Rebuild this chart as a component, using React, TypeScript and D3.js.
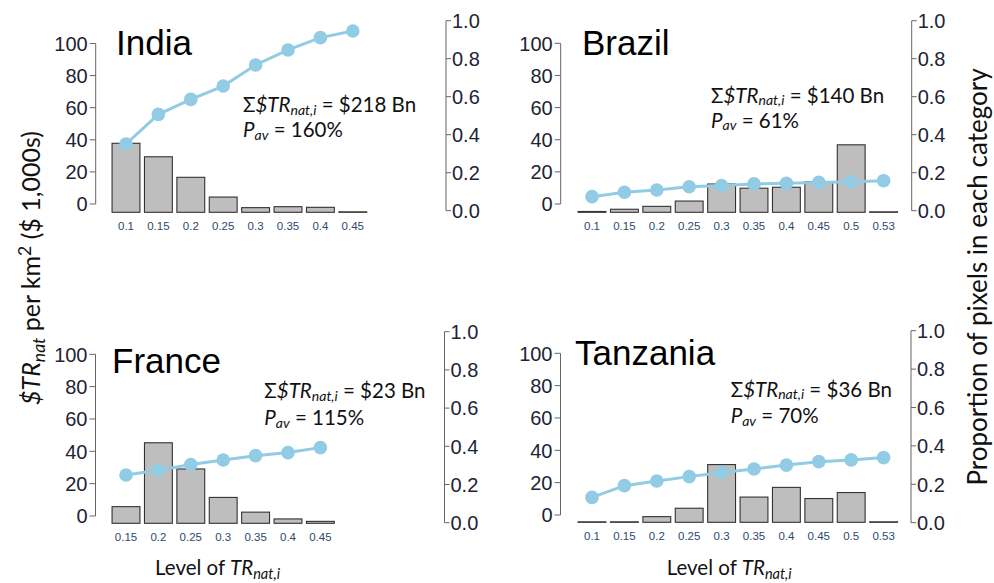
import React from "react";
import * as d3 from "d3";

// ---------- data ----------
const indiaCats = ["0.1", "0.15", "0.2", "0.25", "0.3", "0.35", "0.4", "0.45"];
const indiaBars = [43, 34.6, 21.8, 9.5, 2.9, 3.5, 3.1, 0.3];
const indiaProp = [0.351, 0.507, 0.586, 0.656, 0.767, 0.846, 0.911, 0.946];

const brazilCats = ["0.1", "0.15", "0.2", "0.25", "0.3", "0.35", "0.4", "0.45", "0.5", "0.53"];
const brazilBars = [0.5, 1.9, 3.7, 7, 17.6, 15, 15.6, 19, 42, 0.3];
const brazilProp = [0.074, 0.097, 0.109, 0.126, 0.132, 0.141, 0.144, 0.149, 0.153, 0.158];

const franceCats = ["0.15", "0.2", "0.25", "0.3", "0.35", "0.4", "0.45"];
const franceBars = [10.3, 49.8, 33.6, 16, 6.9, 2.7, 1.2];
const franceProp = [0.25, 0.275, 0.305, 0.328, 0.351, 0.367, 0.393];

const tanzaniaCats = ["0.1", "0.15", "0.2", "0.25", "0.3", "0.35", "0.4", "0.45", "0.5", "0.53"];
const tanzaniaBars = [0.3, 0.3, 3.5, 8.7, 35.7, 15.6, 21.6, 14.7, 18.4, 0.3];
const tanzaniaProp = [0.132, 0.193, 0.217, 0.24, 0.262, 0.28, 0.3, 0.318, 0.327, 0.339];

const leftTicks = [0, 20, 40, 60, 80, 100];
const rightTicks = [0, 0.2, 0.4, 0.6, 0.8, 1.0];

const panelNames = ["India", "Brazil", "France", "Tanzania"];
const panelTotals = ["$218 Bn", "$140 Bn", "$23 Bn", "$36 Bn"];
const panelPav = ["160%", "61%", "115%", "70%"];

// ---------- layout ----------
const layouts = [
  { lx: 95.7, l100: 43.5, l0: 204, rx: 446, r1: 20.7, r0: 210.7, base: 212.3, c0: 126, title: [116, 55], ann: [243, 112, 137] },
  { lx: 560.7, l100: 43.3, l0: 204, rx: 911.7, r1: 20.7, r0: 210.7, base: 212.3, c0: 592, title: [582, 55], ann: [711, 102.5, 127.5] },
  { lx: 95.5, l100: 354.3, l0: 516, rx: 444.5, r1: 331.7, r0: 522.7, base: 523.3, c0: 126, title: [112, 373.3], ann: [264.3, 398.3, 425] },
  { lx: 560.5, l100: 353.3, l0: 515, rx: 911, r1: 330.7, r0: 522.7, base: 522.3, c0: 592, title: [575, 365], ann: [730.7, 396.7, 423.3] },
];

const PITCH = 32.4;
const AXIS_FONT = "'Liberation Sans', Arial, sans-serif";
const ANN_FONT = "Lato, 'Open Sans', sans-serif";
const LINE_COL = "#92cbe4";

function Panel({ cats, bars, prop, idx }) {
  const L = layouts[idx];
  const n = cats.length;
  const x = d3
    .scaleBand()
    .domain(cats)
    .range([L.c0 - PITCH / 2, L.c0 - PITCH / 2 + n * PITCH])
    .paddingInner(0.14)
    .paddingOuter(0.07);
  const yL = d3.scaleLinear().domain([0, 100]).range([L.l0, L.l100]);
  const yB = d3.scaleLinear().domain([0, 100]).range([L.base, L.base - (L.l0 - L.l100)]);
  const yR = d3.scaleLinear().domain([0, 1]).range([L.r0, L.r1]);
  const cx = (c) => (x(c) as number) + x.bandwidth() / 2;
  const pts = cats.map((c, i) => [cx(c), yR(prop[i])] as [number, number]);
  const line = d3.line()(pts);
  const [ax, ay1, ay2] = L.ann;
  return (
    <g>
      {/* left axis */}
      <line x1={L.lx} x2={L.lx} y1={yL(0)} y2={yL(100)} stroke="#666" strokeWidth={1} />
      {leftTicks.map((t) => (
        <g key={"l" + t}>
          <line x1={L.lx - 6} x2={L.lx} y1={yL(t)} y2={yL(t)} stroke="#666" strokeWidth={1} />
          <text x={L.lx - 8} y={yL(t)} dy="0.36em" textAnchor="end" fontFamily={AXIS_FONT} fontSize={20} fill="#1c2435">
            {t}
          </text>
        </g>
      ))}
      {/* right axis */}
      <line x1={L.rx} x2={L.rx} y1={yR(0)} y2={yR(1)} stroke="#666" strokeWidth={1} />
      {rightTicks.map((t) => (
        <g key={"r" + t}>
          <line x1={L.rx} x2={L.rx + 5} y1={yR(t)} y2={yR(t)} stroke="#666" strokeWidth={1} />
          <text x={L.rx + 6} y={yR(t)} dy="0.36em" textAnchor="start" fontFamily={AXIS_FONT} fontSize={20} fill="#1c2435">
            {t.toFixed(1)}
          </text>
        </g>
      ))}
      {/* bars */}
      {cats.map((c, i) => (
        <rect
          key={"b" + c}
          x={x(c)}
          y={yB(bars[i])}
          width={x.bandwidth()}
          height={Math.max(0.01, yB(0) - yB(bars[i]))}
          fill="#bebebe"
          stroke="#333"
          strokeWidth={1.1}
        />
      ))}
      {/* category labels */}
      {cats.map((c) => (
        <text key={"c" + c} x={cx(c)} y={L.base + 17.8} textAnchor="middle" fontFamily={AXIS_FONT} fontSize={11.5} fill="#2c4a6e">
          {c}
        </text>
      ))}
      {/* proportion line */}
      <path d={line} fill="none" stroke={LINE_COL} strokeWidth={3} />
      {pts.map((p, i) => (
        <circle key={"p" + i} cx={p[0]} cy={p[1]} r={6.8} fill={LINE_COL} />
      ))}
      {/* title */}
      <text x={L.title[0]} y={L.title[1]} fontFamily={AXIS_FONT} fontSize={35} fill="#000">
        {panelNames[idx]}
      </text>
      {/* annotation */}
      <text x={ax} y={ay1} fontFamily={ANN_FONT} fontSize={20.5} fill="#111">
        <tspan>Σ</tspan>
        <tspan fontStyle="italic">$TR</tspan>
        <tspan fontStyle="italic" fontSize={14} dy={2.5}>nat,i</tspan>
        <tspan dy={-2.5}> = {panelTotals[idx]}</tspan>
      </text>
      <text x={ax} y={ay2} fontFamily={ANN_FONT} fontSize={20.5} fill="#111">
        <tspan fontStyle="italic">P</tspan>
        <tspan fontStyle="italic" fontSize={14} dy={2.5}>av</tspan>
        <tspan dy={-2.5}> = {panelPav[idx]}</tspan>
      </text>
    </g>
  );
}

export default function App() {
  return (
    <svg
      width={994}
      height={583}
      style={{ position: "absolute", left: 0, top: 0, background: "#fff" }}
    >
      <rect width={994} height={583} fill="#fff" />
      <Panel cats={indiaCats} bars={indiaBars} prop={indiaProp} idx={0} />
      <Panel cats={brazilCats} bars={brazilBars} prop={brazilProp} idx={1} />
      <Panel cats={franceCats} bars={franceBars} prop={franceProp} idx={2} />
      <Panel cats={tanzaniaCats} bars={tanzaniaBars} prop={tanzaniaProp} idx={3} />
      {/* x labels */}
      {[155, 666.7].map((lx, i) => (
        <text key={"xl" + i} x={lx} y={575} fontFamily={ANN_FONT} fontSize={20.5} fill="#111">
          <tspan>Level of </tspan>
          <tspan fontStyle="italic">TR</tspan>
          <tspan fontStyle="italic" fontSize={14.5} dy={4}>nat,i</tspan>
        </text>
      ))}
      {/* left y label */}
      <text transform="translate(40,268) rotate(-90)" textAnchor="middle" fontFamily={ANN_FONT} fontSize={25} fill="#111">
        <tspan fontStyle="italic">$TR</tspan>
        <tspan fontStyle="italic" fontSize={17.5} dy={5}>nat</tspan>
        <tspan dy={-5}> per km</tspan>
        <tspan fontSize={17.5} dy={-9}>2</tspan>
        <tspan dy={9}> ($ 1,000s)</tspan>
      </text>
      {/* right y label */}
      <text transform="translate(987,277) rotate(-90)" textAnchor="middle" fontFamily={ANN_FONT} fontSize={26} fill="#111">
        Proportion of pixels in each category
      </text>
    </svg>
  );
}
